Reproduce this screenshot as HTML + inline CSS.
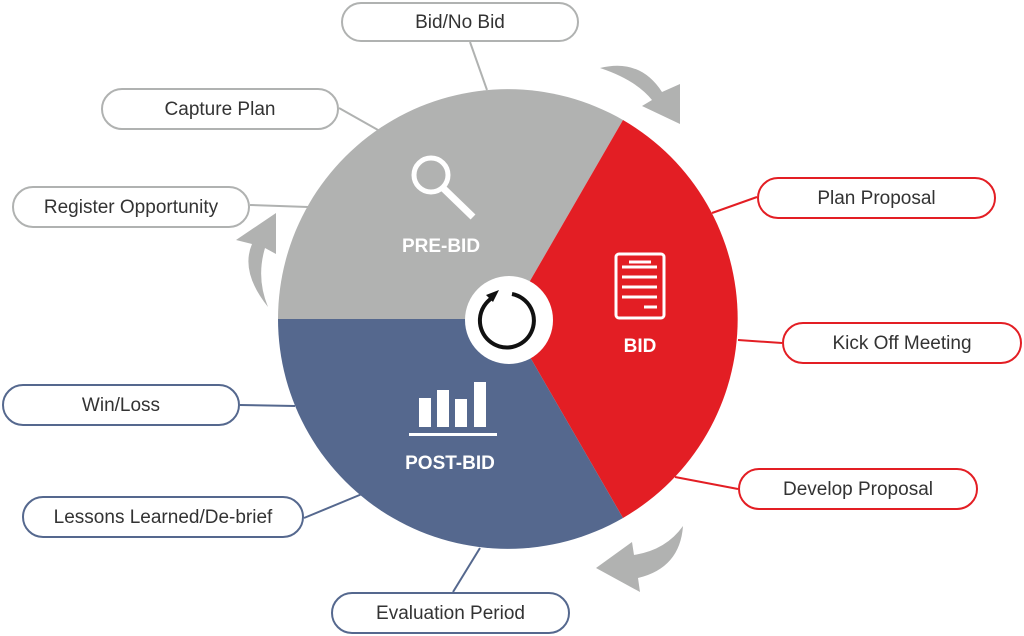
<!DOCTYPE html>
<html><head><style>
body{margin:0;width:1024px;height:636px;background:#fff;overflow:hidden;font-family:"Liberation Sans",sans-serif}
.p{position:absolute;box-sizing:border-box;border:2px solid #b0b2b1;border-radius:21px;background:#fff;display:flex;align-items:center;justify-content:center;font-size:19px;color:#333;height:42px;padding-top:2px}
.r{border-color:#e31e24}.b{border-color:#55688e}
</style></head><body>
<svg width="1024" height="636" style="position:absolute;left:0;top:0">
<g stroke-width="2" fill="none">
<line x1="470" y1="42" x2="487" y2="90" stroke="#b0b2b1"/>
<line x1="339" y1="108" x2="378" y2="130" stroke="#b0b2b1"/>
<line x1="250" y1="205" x2="308" y2="207" stroke="#b0b2b1"/>
<line x1="757" y1="197" x2="712" y2="213" stroke="#e31e24"/>
<line x1="782" y1="343" x2="738" y2="340" stroke="#e31e24"/>
<line x1="738" y1="489" x2="675" y2="477" stroke="#e31e24"/>
<line x1="240" y1="405" x2="295" y2="406" stroke="#55688e"/>
<line x1="304" y1="518" x2="362" y2="494" stroke="#55688e"/>
<line x1="453" y1="592" x2="480" y2="548" stroke="#55688e"/>
</g>
<path d="M508,319 L278,319 A230,230 0 0 1 623,120 Z" fill="#b1b2b1"/>
<path d="M508,319 L623,120 A230,230 0 0 1 623,518 Z" fill="#e31e24"/>
<path d="M508,319 L623,518 A230,230 0 0 1 278,319 Z" fill="#55688e"/>
<circle cx="509" cy="320" r="44" fill="#fff"/>
<path d="M492,298 A27,27 0 1 0 512,294" fill="none" stroke="#111" stroke-width="4"/>
<path d="M486,295 L499,290 L493,302 Z" fill="#111"/>
<circle cx="431" cy="175" r="17" fill="none" stroke="#fff" stroke-width="5"/>
<line x1="443" y1="188" x2="473" y2="217" stroke="#fff" stroke-width="7"/>
<text x="441" y="252" fill="#fff" font-size="19" font-weight="bold" text-anchor="middle">PRE-BID</text>
<rect x="616" y="254" width="48" height="64" rx="3" fill="none" stroke="#fff" stroke-width="3"/>
<g stroke="#fff" stroke-width="3"><line x1="629" y1="262" x2="651" y2="262"/><line x1="622" y1="267" x2="657" y2="267"/><line x1="622" y1="277" x2="657" y2="277"/><line x1="622" y1="287" x2="657" y2="287"/><line x1="622" y1="297" x2="657" y2="297"/><line x1="644" y1="307" x2="657" y2="307"/></g>
<text x="640" y="352" fill="#fff" font-size="19" font-weight="bold" text-anchor="middle">BID</text>
<g fill="#fff"><rect x="419" y="398" width="12" height="29"/><rect x="437" y="390" width="12" height="37"/><rect x="455" y="399" width="12" height="28"/><rect x="474" y="382" width="12" height="45"/></g>
<rect x="409" y="433" width="88" height="3" fill="#fff"/>
<text x="450" y="469" fill="#fff" font-size="19" font-weight="bold" text-anchor="middle">POST-BID</text>
<path d="M600,68 Q640,58 662,92 L680,84 L680,124 L642,106 L652,100 Q636,80 600,68 Z" fill="#b1b2b1"/>
<path d="M268,307 Q240,272 252,244 L236,240 L276,213 L276,254 L265,248 Q256,278 268,307 Z" fill="#b1b2b1"/>
<path d="M683,526 Q680,568 638,578 L640,592 L596,568 L632,542 L634,555 Q666,550 683,526 Z" fill="#b1b2b1"/>
</svg>
<div class="p" style="left:341px;top:2px;width:238px;height:40px">Bid/No Bid</div>
<div class="p" style="left:101px;top:88px;width:238px">Capture Plan</div>
<div class="p" style="left:12px;top:186px;width:238px">Register Opportunity</div>
<div class="p r" style="left:757px;top:177px;width:239px">Plan Proposal</div>
<div class="p r" style="left:782px;top:322px;width:240px">Kick Off Meeting</div>
<div class="p r" style="left:738px;top:468px;width:240px">Develop Proposal</div>
<div class="p b" style="left:2px;top:384px;width:238px">Win/Loss</div>
<div class="p b" style="left:22px;top:496px;width:282px">Lessons Learned/De-brief</div>
<div class="p b" style="left:331px;top:592px;width:239px">Evaluation Period</div>
</body></html>
